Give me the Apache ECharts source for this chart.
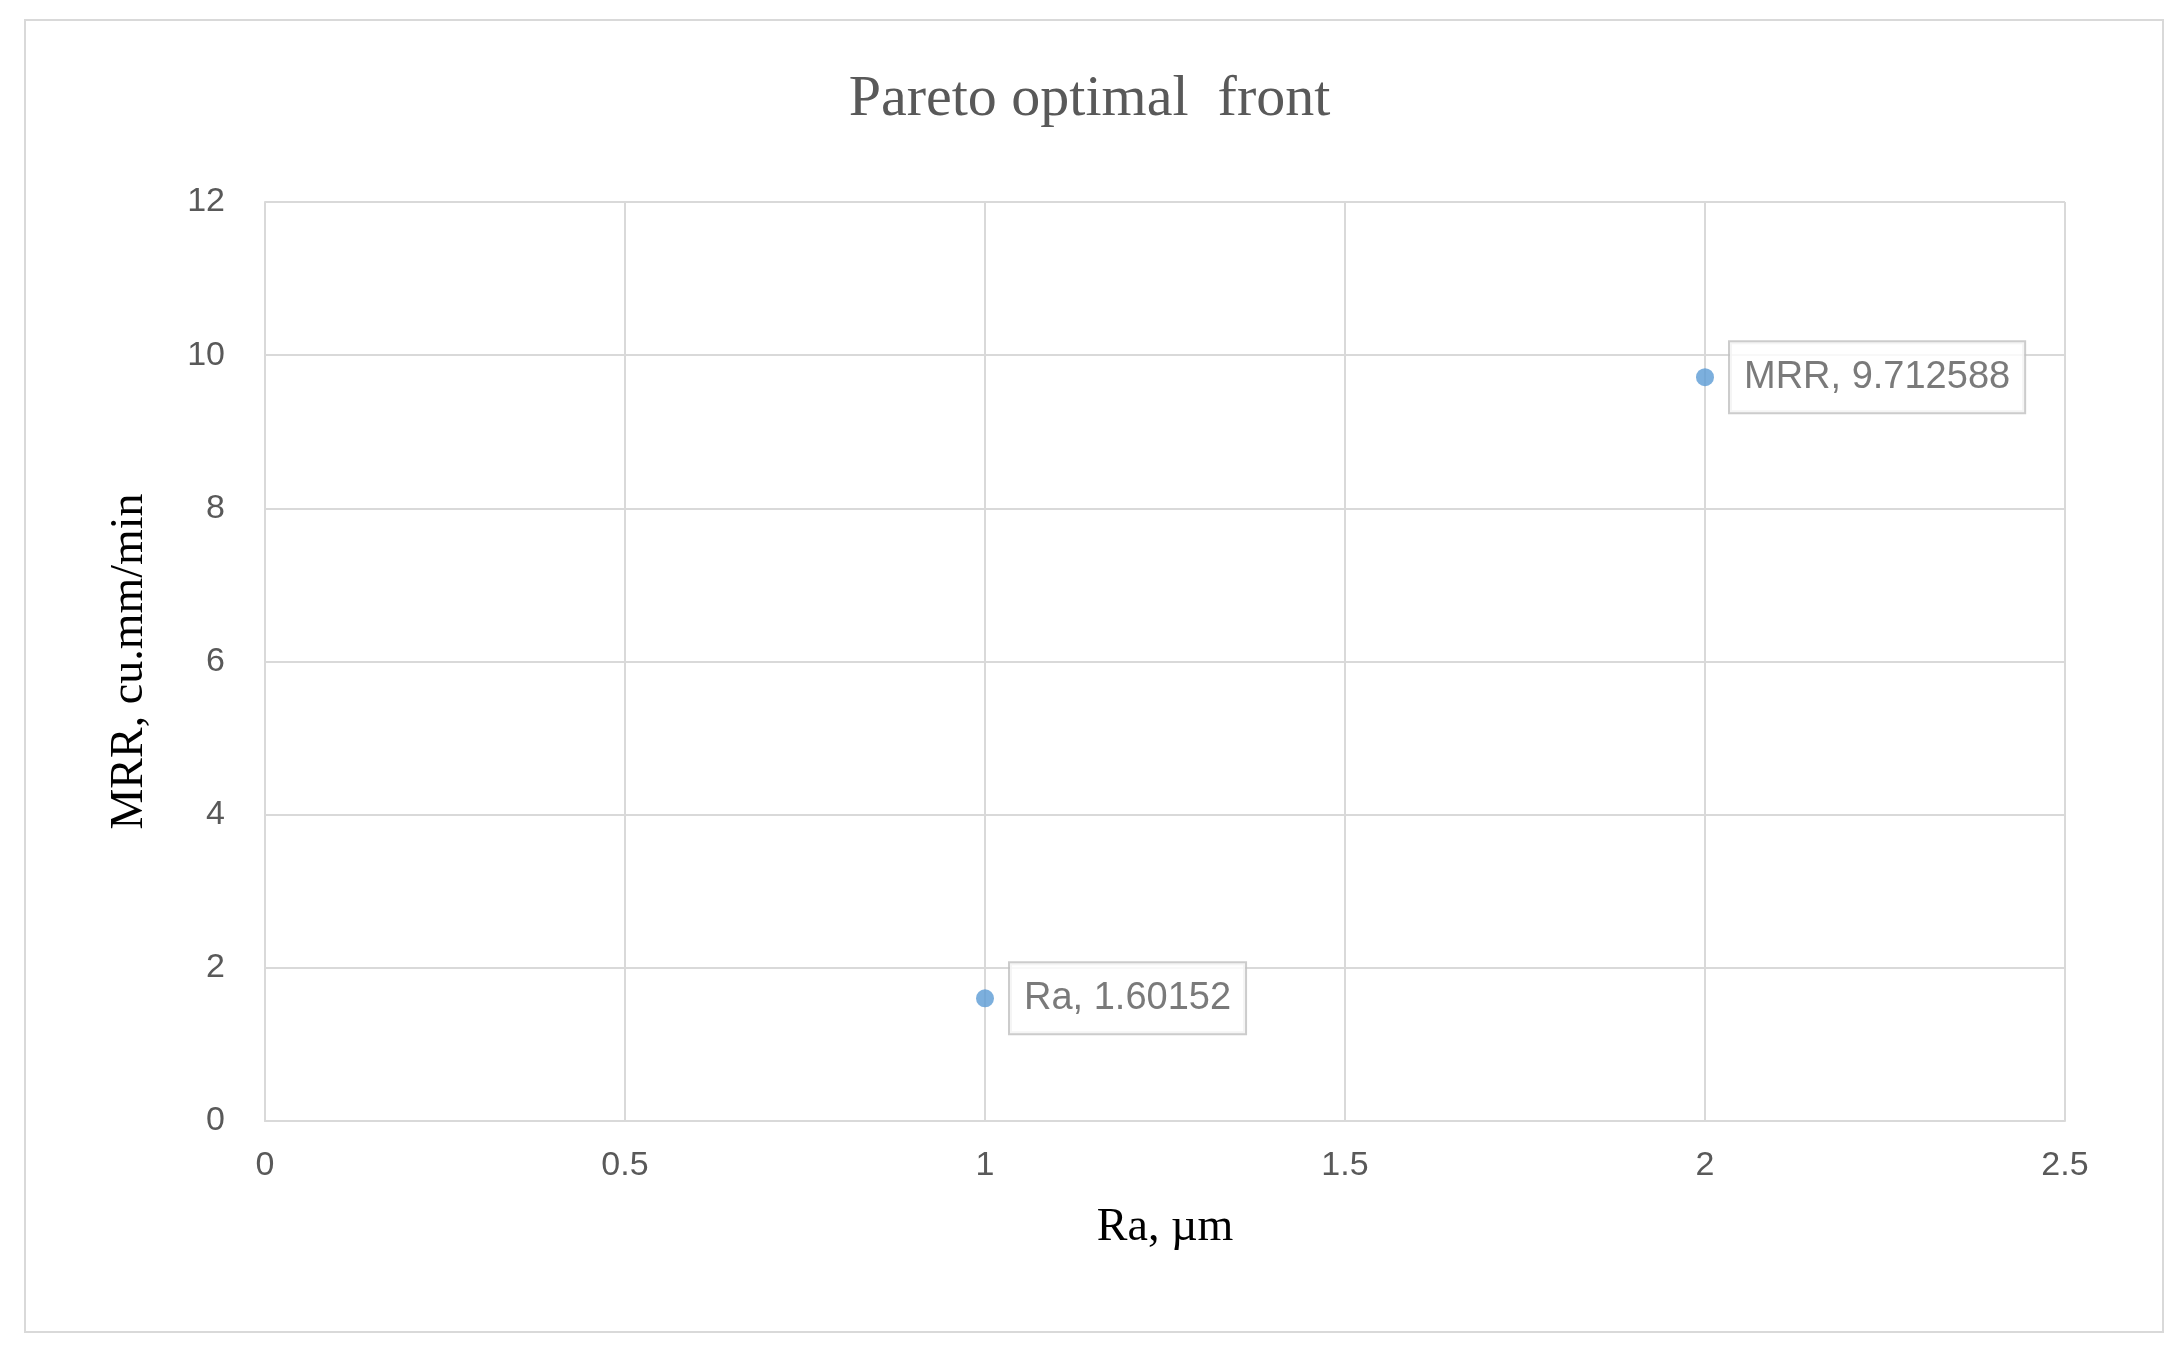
<!DOCTYPE html>
<html><head><meta charset="utf-8">
<script src="https://cdn.jsdelivr.net/npm/echarts@6/dist/echarts.min.js"></script>
<style>html,body{margin:0;background:#fff}#c{width:2179px;height:1350px}
#b{position:absolute;left:24px;top:19px;width:2136px;height:1310px;border:2px solid #d9d9d9;pointer-events:none}</style>
</head><body><div id="c"></div><div id="b"></div>
<script>
const xValues = [1, 2];
const yValues = [1.60152, 9.712588];
const pointNames = ['Ra', 'MRR'];
const xTicks = [0, 0.5, 1, 1.5, 2, 2.5];
const chart = echarts.init(document.getElementById('c'));
const data = xValues.map((x, i) => ({value: [x, yValues[i]], name: pointNames[i]}));
chart.setOption({
  animation: false,
  title: {text: 'Pareto optimal  front', left: 'center', top: 66,
    textStyle: {fontFamily: 'Liberation Serif', fontSize: 58, fontWeight: 'normal', color: '#595959'}},
  grid: {left: 265, right: 114, top: 202, bottom: 229},
  xAxis: {type: 'value', min: 0, max: 2.5, interval: 0.5,
    name: 'Ra, µm', nameLocation: 'middle', nameGap: 84,
    nameTextStyle: {fontFamily: 'Liberation Serif', fontSize: 46, color: '#000'},
    axisLine: {show: true, lineStyle: {color: '#d9d9d9', width: 2}}, axisTick: {show: false},
    axisLabel: {fontSize: 34, color: '#595959', margin: 28, fontFamily: 'Liberation Sans'},
    splitLine: {lineStyle: {color: '#d9d9d9', width: 2}}},
  yAxis: {type: 'value', min: 0, max: 12, interval: 2,
    name: 'MRR, cu.mm/min', nameLocation: 'middle', nameGap: 112,
    nameTextStyle: {fontFamily: 'Liberation Serif', fontSize: 46, color: '#000'},
    axisLine: {show: true, lineStyle: {color: '#d9d9d9', width: 2}}, axisTick: {show: false},
    axisLabel: {fontSize: 34, color: '#595959', margin: 40, fontFamily: 'Liberation Sans'},
    splitLine: {lineStyle: {color: '#d9d9d9', width: 2}}},
  series: [{type: 'scatter', data: data, symbolSize: 18,
    itemStyle: {color: '#5b9bd5'},
    label: {show: true, position: 'right', distance: 16,
      formatter: p => p.name + ', ' + p.value[1],
      fontSize: 38, color: '#595959', fontFamily: 'Liberation Sans',
      backgroundColor: '#fff', borderColor: '#bfbfbf', borderWidth: 2, padding: [16, 14]}}]
});
</script></body></html>
